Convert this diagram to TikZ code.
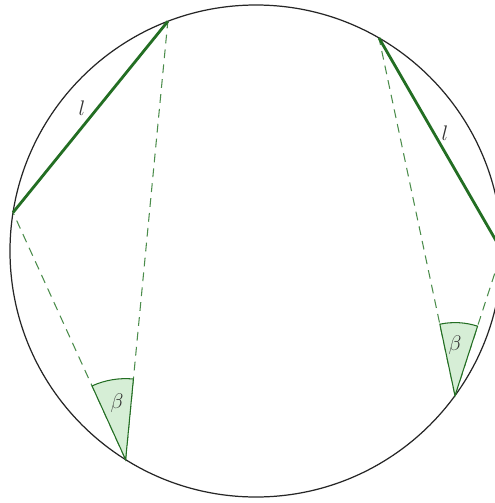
\documentclass[tikz,border=0pt]{standalone}
\usepackage{xcolor}
\usepackage{amsmath}
\usepackage{tikz}
\usetikzlibrary{calc}

\definecolor{chordgreen}{RGB}{35,110,35}
\definecolor{dashgreen}{RGB}{75,140,75}
\definecolor{wedgefill}{RGB}{214,238,214}

\begin{document}
\begin{tikzpicture}[
    rim/.style={draw=black!85, line width=0.7pt},
    chord/.style={draw=chordgreen, line width=1.6pt},
    sight/.style={draw=dashgreen, line width=0.6pt, dash pattern=on 5pt off 3.5pt},
    wedge/.style={draw=chordgreen, fill=wedgefill, line width=0.6pt},
    lbl/.style={font=\large, text=black!80},
]
\useasboundingbox (-5.12,-5.04) rectangle (4.78,5.02);
\clip (-5.12,-5.04) rectangle (4.78,5.02);

% Circle and points on it
\def\R{4.92}
\coordinate (O) at (0,0);
\coordinate (A) at (171:\R);
\coordinate (B) at (111:\R);
\coordinate (C) at (238:\R);
\coordinate (D) at (60:\R);
\coordinate (E) at (0:\R);
\coordinate (F) at (-36:\R);
\draw[rim] (O) circle (\R);

% === Sight lines (dashed) ===
\draw[sight] (C) -- (A);
\draw[sight] (C) -- (B);
\draw[sight] (F) -- (D);
\draw[sight] (F) -- (E);

% === Inscribed angles ===
\draw[wedge] let \p1=($(B)-(C)$), \p2=($(A)-(C)$),
    \n1={atan2(\y1,\x1)}, \n2={atan2(\y2,\x2)} in
    (C) -- ++(\n1:1.62) arc[start angle=\n1, end angle=\n2, radius=1.62] -- cycle;
\draw[wedge] let \p1=($(E)-(F)$), \p2=($(D)-(F)$),
    \n1={atan2(\y1,\x1)}, \n2={atan2(\y2,\x2)} in
    (F) -- ++(\n1:1.46) arc[start angle=\n1, end angle=\n2, radius=1.46] -- cycle;
\node[lbl] (betaL) at (-2.78,-3.04) {$\beta$};
\node[lbl] (betaR) at (3.98,-1.88) {$\beta$};

% === Chords ===
\draw[chord] (A) -- (B);
\draw[chord] (D) -- (E);
\node[lbl] (lenL) at (-3.48,2.86) {$l$};
\node[lbl] (lenR) at (3.78,2.36) {$l$};

\end{tikzpicture}
\end{document}
